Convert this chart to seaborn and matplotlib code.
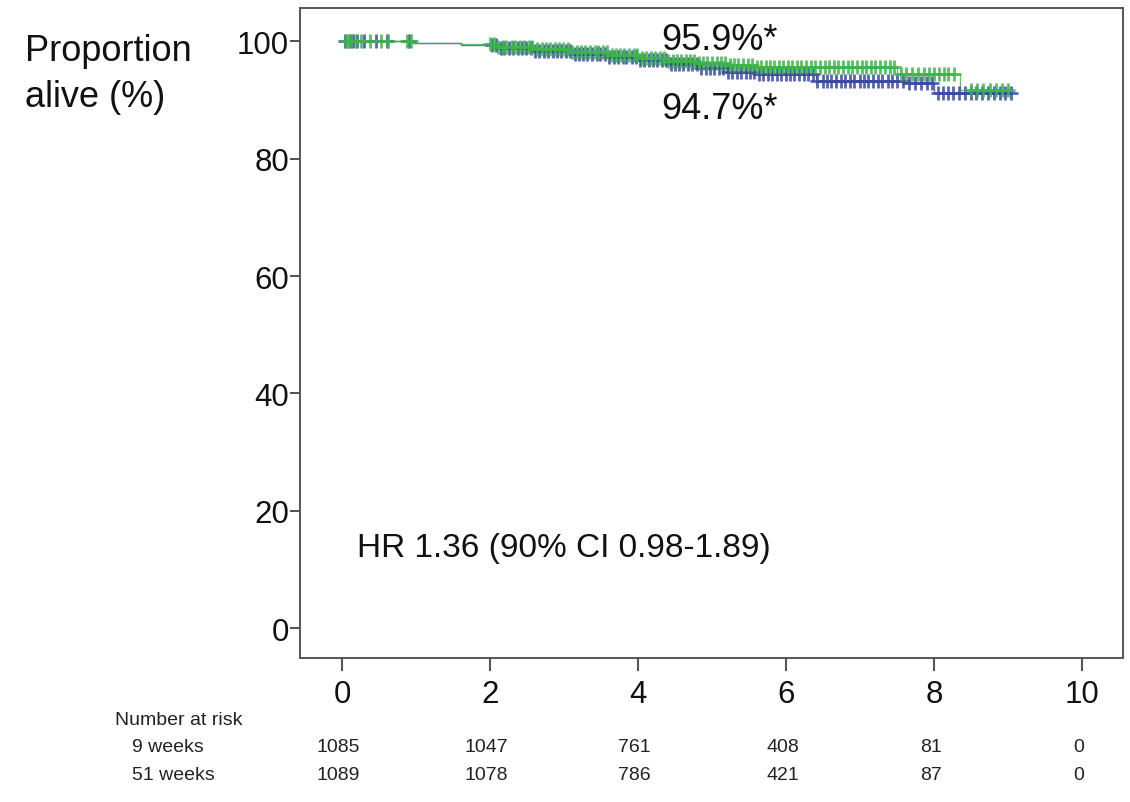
import numpy as np
import pandas as pd
import matplotlib
matplotlib.use("Agg")
import matplotlib.pyplot as plt
import seaborn as sns

# ---- data ----
groups = ["9 weeks", "51 weeks"]
green_times = [0, 0.95, 1.6, 2.1, 2.6, 3.1, 3.6, 4.0, 4.4, 4.8, 5.2, 5.6, 7.5, 8.35, 9.0]
green_surv = [100, 99.8, 99.5, 99.1, 98.7, 98.2, 97.7, 97.2, 96.7, 96.3, 95.9, 95.6, 94.4, 91.8, 91.8]
blue_times = [0, 0.95, 1.6, 2.1, 2.6, 3.1, 3.6, 4.0, 4.4, 4.8, 5.2, 5.6, 6.4, 7.6, 8.0, 9.03]
blue_surv = [100, 99.8, 99.4, 98.9, 98.4, 97.9, 97.4, 96.8, 96.1, 95.4, 94.8, 94.4, 93.3, 92.9, 91.2, 91.2]

green_censor = [0.05, 0.08, 0.12, 0.18, 0.25, 0.38, 0.52, 0.62, 0.88, 0.93,
                2.00, 2.05, 2.11, 2.17, 2.22, 2.29, 2.34, 2.40, 2.46, 2.52, 2.57, 2.63,
                2.70, 2.75, 2.81, 2.88, 2.93, 2.99, 3.05, 3.10, 3.17, 3.23, 3.28, 3.35,
                3.41, 3.46, 3.52, 3.58, 3.64, 3.70, 3.76, 3.81, 3.87, 3.94, 3.99, 4.05,
                4.11, 4.17, 4.22, 4.29, 4.35, 4.40, 4.47, 4.52, 4.58, 4.64, 4.70, 4.76,
                4.82, 4.88, 4.93, 5.00, 5.06, 5.12, 5.17, 5.24, 5.30, 5.35, 5.42, 5.48,
                5.54, 5.60, 5.66, 5.72, 5.78, 5.84, 5.90, 5.96, 6.02, 6.08, 6.14, 6.20,
                6.27, 6.33, 6.39, 6.45, 6.52, 6.58, 6.64, 6.70, 6.77, 6.83, 6.89, 6.95,
                7.02, 7.08, 7.14, 7.20, 7.27, 7.33, 7.40, 7.46, 7.55, 7.62, 7.70, 7.78,
                7.86, 7.93, 8.00, 8.06, 8.13, 8.19, 8.26, 8.50, 8.58, 8.66, 8.75, 8.83,
                8.92, 9.00]
blue_censor = [0.04, 0.10, 0.15, 0.20, 0.30, 0.45, 0.60, 0.90,
               2.02, 2.08, 2.14, 2.19, 2.26, 2.31, 2.37, 2.43, 2.49, 2.55, 2.60, 2.66,
               2.72, 2.78, 2.85, 2.90, 2.96, 3.02, 3.08, 3.14, 3.20, 3.26, 3.31, 3.38,
               3.44, 3.49, 3.55, 3.61, 3.67, 3.73, 3.79, 3.84, 3.91, 3.97, 4.02, 4.08,
               4.14, 4.20, 4.26, 4.32, 4.38, 4.44, 4.50, 4.55, 4.61, 4.67, 4.73, 4.79,
               4.85, 4.91, 4.97, 5.03, 5.09, 5.15, 5.21, 5.27, 5.33, 5.39, 5.45, 5.51,
               5.57, 5.63, 5.69, 5.75, 5.81, 5.87, 5.93, 5.99, 6.05, 6.11, 6.17, 6.24,
               6.30, 6.36, 6.42, 6.49, 6.55, 6.61, 6.67, 6.74, 6.80, 6.86, 6.92, 6.99,
               7.05, 7.11, 7.17, 7.24, 7.30, 7.37, 7.43, 7.50, 7.58, 7.66, 7.74, 7.82,
               7.90, 7.97, 8.05, 8.12, 8.18, 8.25, 8.33, 8.41, 8.49, 8.57, 8.65, 8.73,
               8.81, 8.89, 8.96, 9.03]

risk_9 = [1085, 1047, 761, 408, 81, 0]
risk_51 = [1089, 1078, 786, 421, 87, 0]
risk_times = [0, 2, 4, 6, 8, 10]
x_ticks = [0, 2, 4, 6, 8, 10]
y_ticks = [0, 20, 40, 60, 80, 100]

label_51 = "95.9%*"
label_9 = "94.7%*"
hr_text = "HR 1.36 (90% CI 0.98-1.89)"

# ---- styling ----
sns.set_theme(style="white")
plt.rcParams["font.family"] = ["Liberation Sans", "DejaVu Sans"]
GREEN = "#3DB54A"
BLUE = "#3B48A8"
palette = {"9 weeks": BLUE, "51 weeks": GREEN}

curves = pd.concat([
    pd.DataFrame({"time": blue_times, "surv": blue_surv, "group": "9 weeks"}),
    pd.DataFrame({"time": green_times, "surv": green_surv, "group": "51 weeks"}),
], ignore_index=True)


def censor_df(times, steps_t, steps_s, group):
    idx = np.searchsorted(steps_t, times, side="right") - 1
    return pd.DataFrame({"time": times, "surv": np.asarray(steps_s)[idx], "group": group})


cens = pd.concat([
    censor_df(blue_censor, blue_times, blue_surv, "9 weeks"),
    censor_df(green_censor, green_times, green_surv, "51 weeks"),
], ignore_index=True)

fig = plt.figure(figsize=(11.3, 8.03), dpi=100)
ax = fig.add_axes([0.2655, 0.1793, 0.7283, 0.8095])

sns.lineplot(data=curves, x="time", y="surv", hue="group", palette=palette,
             drawstyle="steps-post", estimator=None, legend=False, ax=ax,
             linewidth=1.0, alpha=0.8)
for g, col in [("9 weeks", BLUE), ("51 weeks", GREEN)]:
    sub = cens[cens["group"] == g]
    ax.plot(sub["time"], sub["surv"], linestyle="none", marker="+",
            markersize=10, markeredgewidth=2.0, color=col, alpha=0.85)

ax.set_xlim(-0.57, 10.55)
ax.set_ylim(-5.1, 105.7)
ax.set_xticks(x_ticks)
ax.set_yticks(y_ticks)
ax.set_xlabel("")
ax.set_ylabel("")
ax.tick_params(axis="both", which="both", direction="out", width=1.2,
               color="#333333", labelsize=22.5, labelcolor="#111111")
ax.tick_params(axis="y", pad=1, length=7)
ax.tick_params(axis="x", pad=6, length=9)
ax.tick_params(bottom=True, left=True, top=False, right=False)
for sp in ax.spines.values():
    sp.set_visible(True)
    sp.set_color("#555555")
    sp.set_linewidth(1.4)

ax.text(4.31, 100.4, label_51, fontsize=26, ha="left", va="center", color="#111111")
ax.text(4.31, 88.5, label_9, fontsize=26, ha="left", va="center", color="#111111")
ax.text(0.2, 13.8, hr_text, fontsize=24, ha="left", va="center", color="#111111")

fig.text(0.022, 0.936, "Proportion", fontsize=26, ha="left", va="center", color="#111111")
fig.text(0.022, 0.878, "alive (%)", fontsize=26, ha="left", va="center", color="#111111")

# number at risk table
fs_r = 14
fig.text(115 / 1130, (803 - 721) / 803, "Number at risk", fontsize=fs_r, ha="left",
         va="center", color="#222222")
fig.text(132 / 1130, (803 - 748) / 803, "9 weeks", fontsize=fs_r, ha="left",
         va="center", color="#222222")
fig.text(132 / 1130, (803 - 776) / 803, "51 weeks", fontsize=fs_r, ha="left",
         va="center", color="#222222")
trans = matplotlib.transforms.blended_transform_factory(ax.transData, fig.transFigure)
for t, a, b in zip(risk_times, risk_9, risk_51):
    ax.text(t - 0.05, (803 - 748) / 803, str(a), fontsize=fs_r, ha="center", va="center",
            transform=trans, color="#222222", clip_on=False)
    ax.text(t - 0.05, (803 - 776) / 803, str(b), fontsize=fs_r, ha="center", va="center",
            transform=trans, color="#222222", clip_on=False)

fig.savefig("out.png", dpi=100)
